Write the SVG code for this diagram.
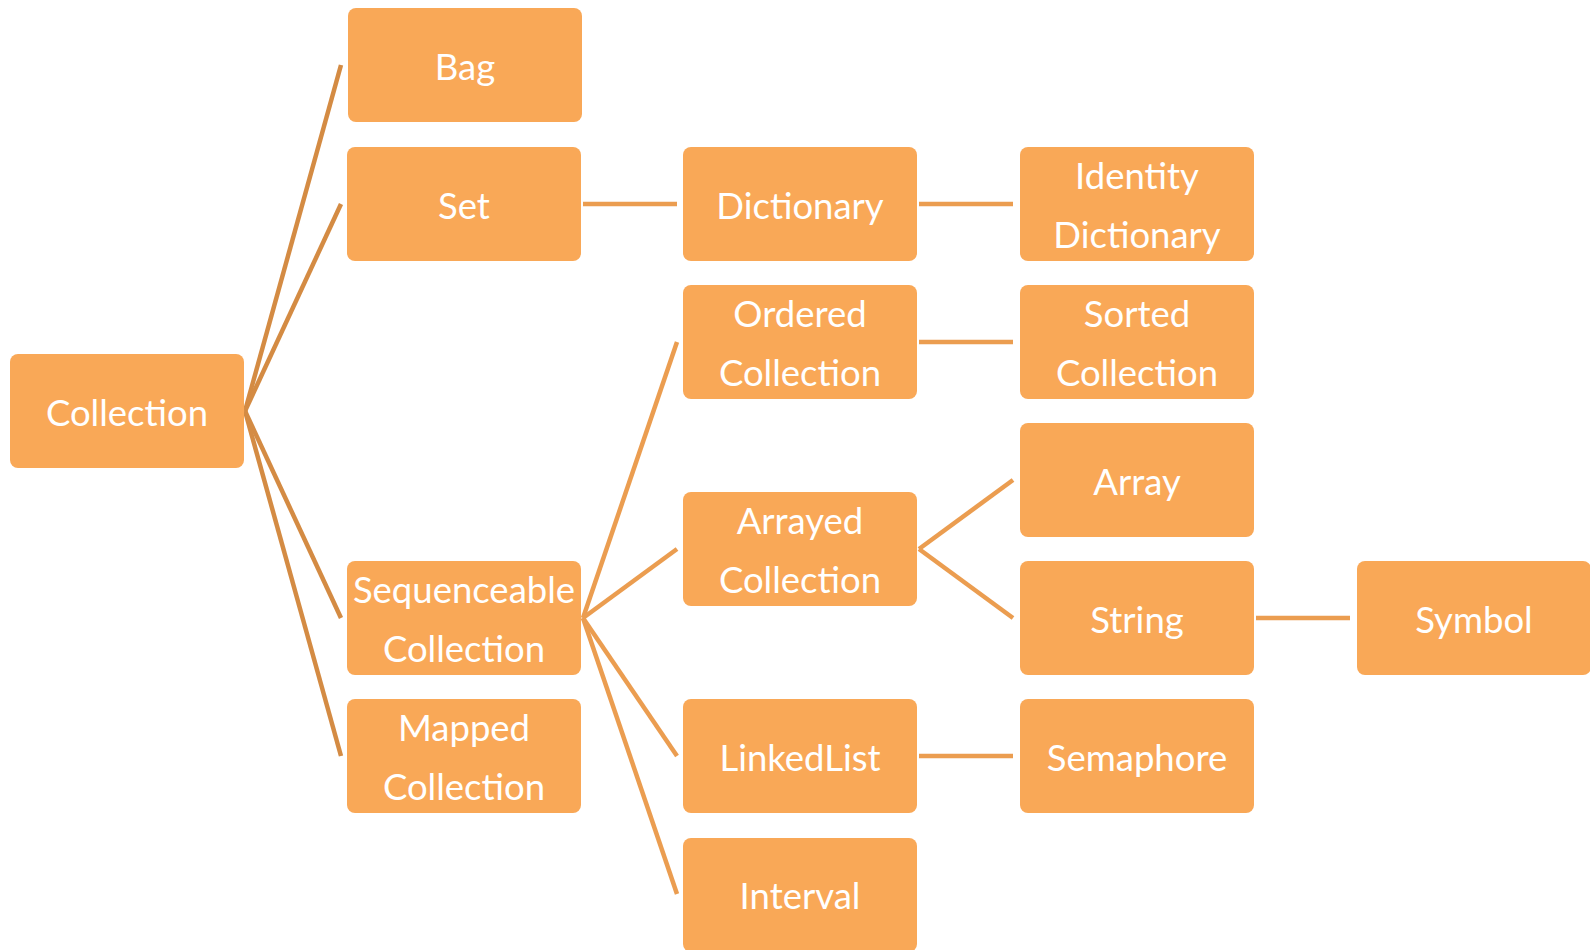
<svg xmlns="http://www.w3.org/2000/svg" width="1590" height="950" viewBox="0 0 1590 950">
<style>
.box{fill:#F9A857;}
.t{font-family:Lato,"Liberation Sans",sans-serif;font-size:36.5px;fill:#FFFFFF;text-anchor:middle;}
.c1{stroke:#D48B43;stroke-width:4.5;fill:none;}
.c2{stroke:#EB9D50;stroke-width:4.5;fill:none;}
</style>
<rect width="1590" height="950" fill="#FFFFFF"/>
<g id="connectors">
<line class="c1" x1="245" y1="411" x2="341" y2="65"/>
<line class="c1" x1="245" y1="411" x2="341" y2="204"/>
<line class="c1" x1="245" y1="411" x2="341" y2="618"/>
<line class="c1" x1="245" y1="411" x2="341" y2="756"/>
<line class="c2" x1="583" y1="204" x2="677" y2="204"/>
<line class="c2" x1="919" y1="204" x2="1013" y2="204"/>
<line class="c2" x1="583" y1="618" x2="677" y2="342"/>
<line class="c2" x1="583" y1="618" x2="677" y2="549"/>
<line class="c2" x1="583" y1="618" x2="677" y2="756"/>
<line class="c2" x1="583" y1="618" x2="677" y2="894"/>
<line class="c2" x1="919" y1="342" x2="1013" y2="342"/>
<line class="c2" x1="919" y1="549" x2="1013" y2="480"/>
<line class="c2" x1="919" y1="549" x2="1013" y2="618"/>
<line class="c2" x1="1256" y1="618" x2="1350" y2="618"/>
<line class="c2" x1="919" y1="756" x2="1013" y2="756"/>
</g>
<g id="collection"><rect class="box" x="10" y="354" width="234" height="114" rx="8"/><text class="t" x="127" y="426">Collection</text></g>
<g id="bag"><rect class="box" x="348" y="8" width="234" height="114" rx="8"/><text class="t" x="465" y="80">Bag</text></g>
<g id="set"><rect class="box" x="347" y="147" width="234" height="114" rx="8"/><text class="t" x="464" y="219">Set</text></g>
<g id="sequenceable"><rect class="box" x="347" y="561" width="234" height="114" rx="8"/><text class="t" x="464" y="603">Sequenceable</text><text class="t" x="464" y="662">Collection</text></g>
<g id="mapped"><rect class="box" x="347" y="699" width="234" height="114" rx="8"/><text class="t" x="464" y="741">Mapped</text><text class="t" x="464" y="800">Collection</text></g>
<g id="dictionary"><rect class="box" x="683" y="147" width="234" height="114" rx="8"/><text class="t" x="800" y="219">Dictionary</text></g>
<g id="ordered"><rect class="box" x="683" y="285" width="234" height="114" rx="8"/><text class="t" x="800" y="327">Ordered</text><text class="t" x="800" y="386">Collection</text></g>
<g id="arrayed"><rect class="box" x="683" y="492" width="234" height="114" rx="8"/><text class="t" x="800" y="534">Arrayed</text><text class="t" x="800" y="593">Collection</text></g>
<g id="linkedlist"><rect class="box" x="683" y="699" width="234" height="114" rx="8"/><text class="t" x="800" y="771">LinkedList</text></g>
<g id="interval"><rect class="box" x="683" y="838" width="234" height="114" rx="8"/><text class="t" x="800" y="909">Interval</text></g>
<g id="identity"><rect class="box" x="1020" y="147" width="234" height="114" rx="8"/><text class="t" x="1137" y="189">Identity</text><text class="t" x="1137" y="248">Dictionary</text></g>
<g id="sorted"><rect class="box" x="1020" y="285" width="234" height="114" rx="8"/><text class="t" x="1137" y="327">Sorted</text><text class="t" x="1137" y="386">Collection</text></g>
<g id="array"><rect class="box" x="1020" y="423" width="234" height="114" rx="8"/><text class="t" x="1137" y="495">Array</text></g>
<g id="string"><rect class="box" x="1020" y="561" width="234" height="114" rx="8"/><text class="t" x="1137" y="633">String</text></g>
<g id="semaphore"><rect class="box" x="1020" y="699" width="234" height="114" rx="8"/><text class="t" x="1137" y="771">Semaphore</text></g>
<g id="symbol"><rect class="box" x="1357" y="561" width="234" height="114" rx="8"/><text class="t" x="1474" y="633">Symbol</text></g>
</svg>
